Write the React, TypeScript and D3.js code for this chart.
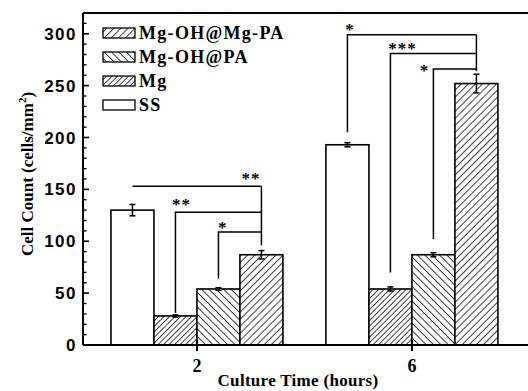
import React from 'react';
import * as d3 from 'd3';

// culture time groups (hours)
const times = [2, 6];
// bar order inside each group, left to right
const series = ['SS', 'Mg', 'Mg-OH@PA', 'Mg-OH@Mg-PA'];
const ssValues = [130, 193];
const mgValues = [28, 54];
const paValues = [54, 87];
const mgpaValues = [87, 252];
const ssErr = [5.5, 2];
const mgErr = [1, 2];
const paErr = [1.2, 2];
const mgpaErr = [4, 9];

const yTicks = [0, 50, 100, 150, 200, 250, 300];
// legend order as in the figure
const legendItems = ['Mg-OH@Mg-PA', 'Mg-OH@PA', 'Mg', 'SS'];

// significance brackets: bars compared with the last bar of the group
// level = height of the horizontal line, drop = lower end of the left leg
const brackets = [
  { time: 2, from: 0, level: 153, drop: 153, label: '**', at: 0.92, dy: -9 },
  { time: 2, from: 1, level: 128, drop: 31, label: '**', at: 0.07, dy: -9 },
  { time: 2, from: 2, level: 109, drop: 64, label: '*', at: 0.1, dy: -6 },
  { time: 6, from: 0, level: 299, drop: 205, label: '*', at: 0.02, dy: -7 },
  { time: 6, from: 1, level: 281, drop: 70, label: '***', at: 0.14, dy: -6 },
  { time: 6, from: 2, level: 266, drop: 102, label: '*', at: -0.21, dy: 0 },
];
// lower end of the shared right leg, per group
const bracketFoot = [96, 264];

const W = 528;
const H = 391;
const left = 83;
const top = 13;
const bottom = 345;

const fills: Record<string, string> = {
  SS: 'white',
  Mg: 'url(#hMg)',
  'Mg-OH@PA': 'url(#hPA)',
  'Mg-OH@Mg-PA': 'url(#hMgPA)',
};

const serif = '"Liberation Serif", "Times New Roman", serif';
const sans = '"Liberation Sans", Arial, sans-serif';

const App = () => {
  const x = d3.scaleLinear().domain([-0.12, 8.16]).range([left, W]);
  const y = d3.scaleLinear().domain([0, 320]).range([bottom, top]);
  const barW = 0.8;
  const values = [ssValues, mgValues, paValues, mgpaValues];
  const errs = [ssErr, mgErr, paErr, mgpaErr];
  const barX = (gi: number, si: number) => times[gi] + (si - 2) * barW;
  const minor = d3.range(0, 321, 10).filter((v) => v % 50 !== 0);

  return (
    <svg width={W} height={H} style={{ position: 'absolute', left: 0, top: 0, background: 'white' }}>
      <defs>
        <pattern id="hMg" patternUnits="userSpaceOnUse" width={3.9} height={3.9} patternTransform="rotate(45)">
          <rect width={3.9} height={3.9} fill="white" />
          <line x1={0} y1={0} x2={0} y2={3.9} stroke="#000" strokeWidth={1.5} />
        </pattern>
        <pattern id="hPA" patternUnits="userSpaceOnUse" width={5.2} height={5.2} patternTransform="rotate(-45)">
          <rect width={5.2} height={5.2} fill="white" />
          <line x1={0} y1={0} x2={0} y2={5.2} stroke="#000" strokeWidth={1.5} />
        </pattern>
        <pattern id="hMgPA" patternUnits="userSpaceOnUse" width={5} height={5} patternTransform="rotate(45)">
          <rect width={5} height={5} fill="white" />
          <line x1={0} y1={0} x2={0} y2={5} stroke="#000" strokeWidth={1.5} />
        </pattern>
      </defs>

      {/* bars */}
      {times.map((t, gi) =>
        series.map((s, si) => {
          const v = values[si][gi];
          const x0 = x(barX(gi, si));
          const x1 = x(barX(gi, si) + barW);
          const cx = (x0 + x1) / 2;
          const e = errs[si][gi];
          return (
            <g key={`${t}-${s}`}>
              <rect x={x0} y={y(v)} width={x1 - x0} height={y(0) - y(v)} fill={fills[s]} stroke="#000" strokeWidth={1.6} />
              <g stroke="#000" strokeWidth={1.5}>
                <line x1={cx} x2={cx} y1={y(v + e)} y2={y(v - e)} />
                <line x1={cx - 3} x2={cx + 3} y1={y(v + e)} y2={y(v + e)} />
                <line x1={cx - 3} x2={cx + 3} y1={y(v - e)} y2={y(v - e)} />
              </g>
            </g>
          );
        })
      )}

      {/* significance brackets */}
      {brackets.map((b, i) => {
        const gi = times.indexOf(b.time);
        const xl = x(barX(gi, b.from) + barW / 2);
        const xr = x(barX(gi, 3) + barW / 2);
        const ly = y(b.level);
        const lx = xl + (xr - xl) * b.at;
        return (
          <g key={i}>
            <path d={`M${xl},${y(b.drop)}V${ly}H${xr}`} fill="none" stroke="#000" strokeWidth={1.5} />
            <text x={lx} y={ly + b.dy + 7} textAnchor="middle" fontFamily={serif} fontWeight="bold" fontSize={17} letterSpacing={1}>
              {b.label}
            </text>
          </g>
        );
      })}
      {times.map((t, gi) => {
        const xr = x(barX(gi, 3) + barW / 2);
        const lv = d3.max(brackets.filter((b) => b.time === t), (b) => b.level) as number;
        return <line key={t} x1={xr} x2={xr} y1={y(lv)} y2={y(bracketFoot[gi])} stroke="#000" strokeWidth={1.5} />;
      })}

      {/* frame and axes */}
      <line x1={left} x2={W} y1={top} y2={top} stroke="#000" strokeWidth={2.2} />
      <line x1={left} x2={left} y1={top} y2={bottom} stroke="#000" strokeWidth={2} />
      <line x1={left} x2={W} y1={bottom} y2={bottom} stroke="#000" strokeWidth={2} />
      {yTicks.map((v) => (
        <g key={v}>
          <line x1={left} x2={left + 6} y1={y(v)} y2={y(v)} stroke="#000" strokeWidth={1.6} />
          <text x={77} y={y(v) + 6} textAnchor="end" fontFamily={sans} fontWeight="bold" fontSize={17} letterSpacing={1.5}>
            {v}
          </text>
        </g>
      ))}
      {minor.map((v) => (
        <line key={v} x1={left} x2={left + 3.5} y1={y(v)} y2={y(v)} stroke="#000" strokeWidth={1.4} />
      ))}
      {times.map((t) => (
        <g key={t}>
          <line x1={x(t)} x2={x(t)} y1={bottom - 5} y2={bottom + 6} stroke="#000" strokeWidth={2} />
          <text x={x(t)} y={372} textAnchor="middle" fontFamily={serif} fontWeight="bold" fontSize={18}>
            {t}
          </text>
        </g>
      ))}
      <text x={298} y={386} textAnchor="middle" fontFamily={serif} fontWeight="bold" fontSize={17} letterSpacing={0.3}>
        Culture Time (hours)
      </text>
      <text transform="translate(33,174) rotate(-90)" textAnchor="middle" fontFamily={serif} fontWeight="bold" fontSize={17}>
        Cell Count (cells/mm<tspan dy={-7} fontSize={11}>2</tspan><tspan dy={7}>)</tspan>
      </text>

      {/* legend */}
      {legendItems.map((s, i) => {
        const ly = 33 + i * 24;
        return (
          <g key={s}>
            <rect x={103} y={ly - 5} width={32} height={10} fill={fills[s]} stroke="#000" strokeWidth={1.3} />
            <text x={139} y={ly + 6} fontFamily={serif} fontWeight="bold" fontSize={18} letterSpacing={1.3}>
              {s}
            </text>
          </g>
        );
      })}
    </svg>
  );
};

export default App;
